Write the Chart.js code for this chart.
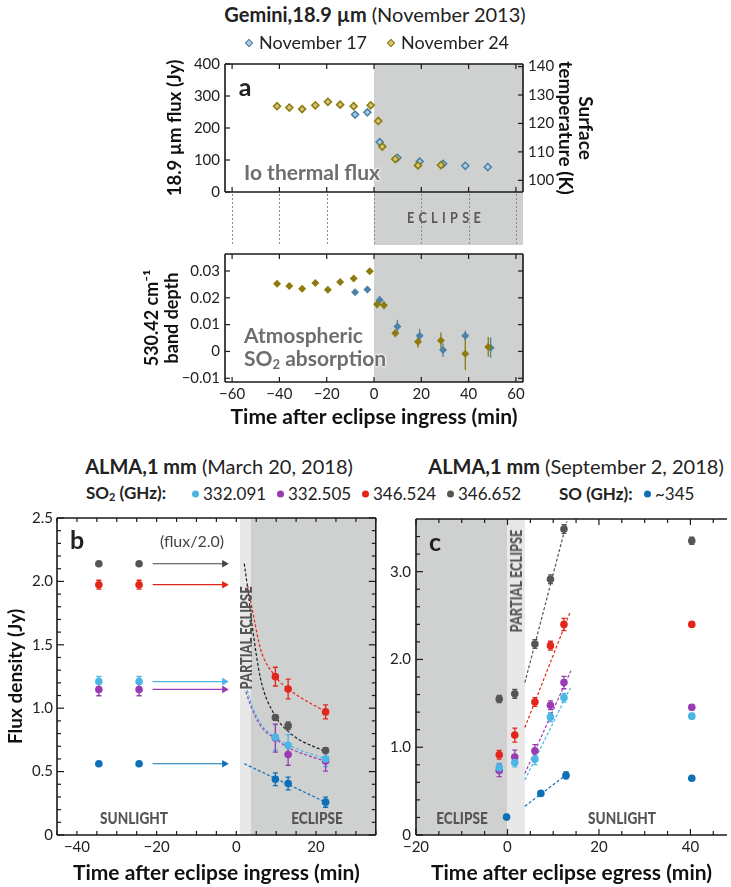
<!DOCTYPE html>
<html>
<head>
<meta charset="utf-8">
<script src="https://cdn.jsdelivr.net/npm/chart.js@4.4.1/dist/chart.umd.min.js"></script>
<style>
  body { margin: 0; background: #fff; width: 731px; height: 887px; position: relative; overflow: hidden;
         font-family: Lato, "DejaVu Sans", sans-serif; color: #222; }
  canvas { position: absolute; }
  .t { position: absolute; white-space: nowrap; line-height: 1; }
  .cond { font-weight: 900; color: #555; font-family: Lato, sans-serif; }
</style>
</head>
<body>
<canvas id="cA1" width="450" height="195" style="left:150px;top:50px"></canvas>
<canvas id="cA2" width="470" height="190" style="left:130px;top:240px"></canvas>
<canvas id="cB" width="381" height="382" style="left:0px;top:505px"></canvas>
<canvas id="cC" width="350" height="382" style="left:381px;top:505px"></canvas>

<script>
// ---- panel a : Gemini 18.9 um ----
const nov24FluxTime = [-41.0, -35.8, -30.4, -24.8, -19.5, -14.3, -8.6, -1.4, 1.8, 3.5, 9.0, 18.6, 28.3];
const nov24Flux     = [268, 264, 259, 271, 282, 273, 268, 271, 222, 142, 103, 83, 84];
const nov17FluxTime = [-8.0, -2.8, 2.4, 9.9, 19.3, 29.2, 38.6, 48.1];
const nov17Flux     = [242, 249, 156, 107, 95, 88, 82, 78];

const nov24DepthTime = [-41.0, -35.8, -30.4, -24.8, -19.5, -14.3, -8.6, -1.8, 1.3, 4.2, 9.0, 18.6, 28.3, 38.6, 48.3];
const nov24Depth     = [0.0252, 0.0244, 0.0234, 0.0255, 0.0230, 0.0259, 0.0272, 0.0299, 0.0176, 0.0172, 0.0068, 0.0036, 0.0041, -0.0009, 0.0017];
const nov24DepthErr  = [0, 0, 0, 0, 0, 0, 0, 0, 0.0015, 0.0015, 0.0015, 0.0022, 0.003, 0.006, 0.0037];
const nov17DepthTime = [-8.0, -2.8, 2.4, 9.9, 19.3, 29.2, 38.6, 49.3];
const nov17Depth     = [0.0221, 0.0231, 0.0192, 0.0093, 0.0059, 0.0005, 0.0059, 0.0014];
const nov17DepthErr  = [0, 0, 0.0015, 0.0025, 0.0025, 0.0025, 0.0018, 0.0038];

const timeTicksA  = [-60, -40, -20, 0, 20, 40, 60];
const fluxTicks   = [0, 100, 200, 300, 400];
const tempTicks   = [100, 110, 120, 130, 140];
const depthTicks  = [-0.01, 0, 0.01, 0.02, 0.03];

// ---- panel b : ALMA ingress (March 20, 2018) ----
const ingTime      = [-34.5, -24.4, 9.8, 13.0, 22.4];
const b332091      = [1.21, 1.21, 0.77, 0.707, 0.60];
const b332091Err   = [0.04, 0.04, 0.10, 0.085, 0.06];
const b332505      = [1.148, 1.148, 0.764, 0.635, 0.583];
const b332505Err   = [0.05, 0.05, 0.11, 0.085, 0.08];
const b346524      = [1.974, 1.974, 1.249, 1.152, 0.971];
const b346524Err   = [0.035, 0.035, 0.074, 0.078, 0.055];
const b346652      = [2.139, 2.139, 0.927, 0.862, 0.666];
const b346652Err   = [0, 0, 0.02, 0.03, 0.02];
const bSO          = [0.562, 0.562, 0.44, 0.406, 0.259];
const bSOErr       = [0, 0, 0.05, 0.05, 0.04];

const fitB346652T = [2.0, 2.8, 4.0, 6.1, 9.4, 13.5, 22.4];
const fitB346652  = [2.14, 1.956, 1.645, 1.23, 0.958, 0.803, 0.655];
const fitB346524T = [2.8, 4.5, 6.1, 9.8, 13.0, 22.4];
const fitB346524  = [1.97, 1.70, 1.463, 1.25, 1.152, 0.971];
const fitB332091T = [2.4, 3.6, 6.1, 9.8, 13.0, 22.4];
const fitB332091  = [1.18, 1.05, 0.88, 0.77, 0.71, 0.60];
const fitB332505T = [2.4, 3.6, 6.1, 9.8, 13.0, 22.4];
const fitB332505  = [1.13, 1.02, 0.86, 0.76, 0.69, 0.58];
const fitBSOT     = [2.0, 22.4];
const fitBSO      = [0.562, 0.259];

const arrowT      = [-21, -3];
const arrowLevels = [2.139, 1.974, 1.21, 1.148, 0.562];

const timeTicksB   = [-40, -20, 0, 20];
const timeMinorB   = [-45, -40, -35, -30, -25, -20, -15, -10, -5, 0, 5, 10, 15, 20, 25, 30, 35];
const fluxTicksB   = [0, 0.5, 1.0, 1.5, 2.0, 2.5];
const fluxMinorB   = [0.1, 0.2, 0.3, 0.4, 0.6, 0.7, 0.8, 0.9, 1.1, 1.2, 1.3, 1.4, 1.6, 1.7, 1.8, 1.9, 2.1, 2.2, 2.3, 2.4];

// ---- panel c : ALMA egress (September 2, 2018) ----
const egrTime      = [-1.8, 1.6, 6.0, 9.4, 12.35, 40.3];
const c346652      = [1.549, 1.608, 2.175, 2.913, 3.486, 3.352];
const c346652Err   = [0.04, 0.05, 0.05, 0.05, 0.05, 0.04];
const c346524      = [0.914, 1.138, 1.515, 2.157, 2.399, 2.399];
const c346524Err   = [0.05, 0.08, 0.05, 0.05, 0.07, 0.02];
const c332505      = [0.735, 0.888, 0.959, 1.478, 1.736, 1.455];
const c332505Err   = [0.07, 0.08, 0.07, 0.05, 0.07, 0.03];
const c332091      = [0.765, 0.825, 0.862, 1.343, 1.563, 1.354];
const c332091Err   = [0.05, 0.05, 0.06, 0.05, 0.05, 0.03];
const cSOTime      = [-0.2, 7.3, 12.8, 40.3];
const cSO          = [0.205, 0.474, 0.679, 0.646];
const cSOErr       = [0.03, 0.02, 0.04, 0.01];

const fitCT        = [3.8, 13.0];
const fitC346652   = [1.736, 3.572];
const fitC346524T  = [3.8, 13.7];
const fitC346524   = [1.224, 2.54];
const fitC332505T  = [3.8, 13.9];
const fitC332505   = [0.70, 1.877];
const fitC332091T  = [3.8, 13.9];
const fitC332091   = [0.627, 1.69];
const fitCSOT      = [3.8, 12.8];
const fitCSO       = [0.328, 0.683];

const timeTicksC   = [-20, 0, 20, 40];
const timeMinorC   = [-15, -10, -5, 5, 10, 15, 25, 30, 35, 45];
const fluxTicksC   = [0, 1.0, 2.0, 3.0];
const fluxMinorC   = [0.2, 0.4, 0.6, 0.8, 1.2, 1.4, 1.6, 1.8, 2.2, 2.4, 2.6, 2.8, 3.2, 3.4];

// colours
const GRAY = '#555555', RED = '#e3261c', CYAN = '#4bb6e6', PURPLE = '#9b3bb4', BLUE = '#0d70b7';
const OLIVE = '#8e7b0e', OLIVE_L = '#d3c67a', STEEL = '#4c82a8', STEEL_L = '#b3cde0';
const SHADE = '#cfd0d0', SHADE_L = '#e8e8e8';

const pts = (xs, ys) => xs.map((x, i) => ({x, y: ys[i]}));
const minus = s => String(s).replace('-', '\u2212');
const fixTicks = vals => s => { s.ticks = vals.map(v => ({value: v})); };
const noGrid = {display: false, drawTicks: false};

// per-chart extras: shading, ticks drawn inward, frame
const panelCfg = {
  cA1: {
    bands: [{from: 0, to: 63, color: SHADE}], bandToBottom: true, gapLines: timeTicksA,
    ticks: [{scale: 'x', side: 'top', values: timeTicksA, len: 5}, {scale: 'x', side: 'bottom', values: timeTicksA, len: 5},
            {scale: 'y', side: 'left', values: fluxTicks, len: 5}, {scale: 'y2', side: 'right', values: tempTicks, len: 5}],
    sides: ['top', 'right', 'bottom', 'left']
  },
  cA2: {
    bands: [{from: 0, to: 63, color: SHADE}],
    ticks: [{scale: 'x', side: 'top', values: timeTicksA, len: 5}, {scale: 'x', side: 'bottom', values: timeTicksA, len: 5},
            {scale: 'y', side: 'left', values: depthTicks, len: 5}, {scale: 'y', side: 'right', values: depthTicks, len: 5}],
    sides: ['top', 'right', 'bottom', 'left']
  },
  cB: {
    bands: [{from: 0.9, to: 3.6, color: SHADE_L}, {from: 3.6, to: 35, color: SHADE}],
    ticks: [{scale: 'x', side: 'top', values: timeMinorB, len: 4}, {scale: 'x', side: 'bottom', values: timeMinorB, len: 4},
            {scale: 'y', side: 'left', values: fluxMinorB, len: 4}, {scale: 'y', side: 'left', values: fluxTicksB, len: 7},
            {scale: 'y', side: 'right', values: fluxMinorB, len: 4}, {scale: 'y', side: 'right', values: fluxTicksB, len: 7}],
    sides: ['top', 'right', 'bottom', 'left']
  },
  cC: {
    bands: [{from: -20, to: 0, color: SHADE}, {from: 0, to: 3.8, color: SHADE_L}],
    ticks: [{scale: 'x', side: 'top', values: timeMinorC, len: 4}, {scale: 'x', side: 'top', values: timeTicksC, len: 6},
            {scale: 'x', side: 'bottom', values: timeMinorC, len: 4}, {scale: 'x', side: 'bottom', values: timeTicksC, len: 6},
            {scale: 'y', side: 'left', values: fluxMinorC, len: 4}, {scale: 'y', side: 'left', values: fluxTicksC, len: 7}],
    sides: ['top', 'bottom', 'left']
  }
};

const panelPlugin = {
  id: 'panel',
  beforeDatasetsDraw(chart) {
    const o = panelCfg[chart.canvas.id];
    const {ctx, chartArea: a} = chart;
    const xs = chart.scales.x;
    ctx.save();
    const bottom = o.bandToBottom ? chart.height : a.bottom;
    o.bands.forEach(b => {
      const x0 = Math.max(a.left, xs.getPixelForValue(b.from));
      const x1 = Math.min(a.right, xs.getPixelForValue(b.to));
      ctx.fillStyle = b.color;
      ctx.fillRect(x0, a.top, x1 - x0, bottom - a.top);
    });
    if (o.gapLines) {
      ctx.strokeStyle = '#8c8c8c';
      ctx.lineWidth = 1;
      ctx.setLineDash([2, 2]);
      o.gapLines.forEach(v => {
        const px = Math.round(xs.getPixelForValue(v)) + 0.5;
        ctx.beginPath(); ctx.moveTo(px, a.bottom + 2); ctx.lineTo(px, chart.height); ctx.stroke();
      });
      ctx.setLineDash([]);
    }
    // error bars
    chart.data.datasets.forEach(ds => {
      if (!ds.errors) return;
      const ys = chart.scales[ds.yAxisID || 'y'];
      ctx.strokeStyle = ds.borderColor;
      ctx.lineWidth = 1.3;
      ds.data.forEach((p, j) => {
        const e = ds.errors[j];
        if (!e) return;
        const px = xs.getPixelForValue(p.x);
        const y0 = ys.getPixelForValue(p.y - e), y1 = ys.getPixelForValue(p.y + e);
        ctx.beginPath();
        ctx.moveTo(px, y0); ctx.lineTo(px, y1);
        if (ds.caps) {
          ctx.moveTo(px - 2.5, y0); ctx.lineTo(px + 2.5, y0);
          ctx.moveTo(px - 2.5, y1); ctx.lineTo(px + 2.5, y1);
        }
        ctx.stroke();
      });
    });
    ctx.restore();
  },
  afterDatasetsDraw(chart) {
    const o = panelCfg[chart.canvas.id];
    const {ctx, chartArea: a} = chart;
    ctx.save();
    ctx.strokeStyle = '#1a1a1a';
    ctx.lineWidth = 1.2;
    o.ticks.forEach(t => {
      const s = chart.scales[t.scale];
      t.values.forEach(v => {
        const p = s.getPixelForValue(v);
        ctx.beginPath();
        if (t.side === 'bottom') { ctx.moveTo(p, a.bottom); ctx.lineTo(p, a.bottom - t.len); }
        else if (t.side === 'top') { ctx.moveTo(p, a.top); ctx.lineTo(p, a.top + t.len); }
        else if (t.side === 'left') { ctx.moveTo(a.left, p); ctx.lineTo(a.left + t.len, p); }
        else { ctx.moveTo(a.right, p); ctx.lineTo(a.right - t.len, p); }
        ctx.stroke();
      });
    });
    ctx.lineWidth = 1.6;
    ctx.beginPath();
    if (o.sides.includes('top')) { ctx.moveTo(a.left, a.top); ctx.lineTo(a.right, a.top); }
    if (o.sides.includes('bottom')) { ctx.moveTo(a.left, a.bottom); ctx.lineTo(a.right, a.bottom); }
    if (o.sides.includes('left')) { ctx.moveTo(a.left, a.top); ctx.lineTo(a.left, a.bottom); }
    if (o.sides.includes('right')) { ctx.moveTo(a.right, a.top); ctx.lineTo(a.right, a.bottom); }
    ctx.stroke();
    ctx.restore();
  }
};

Chart.register(panelPlugin);
Chart.defaults.font.family = 'Lato, "DejaVu Sans", sans-serif';
Chart.defaults.font.size = 15;
Chart.defaults.color = '#222';

const base = {
  responsive: false, animation: false, devicePixelRatio: 1,
  plugins: {legend: {display: false}, tooltip: {enabled: false}}
};
const titleFont = (size, lh) => ({size: size, weight: 'bold', lineHeight: lh || 1.2});

function pointSet(xs, ys, color, extra) {
  return Object.assign({data: pts(xs, ys), borderColor: color, backgroundColor: color,
    pointStyle: 'circle', pointRadius: 3.8, borderWidth: 0, showLine: false, order: 0}, extra);
}
function fitSet(xs, ys, color) {
  return {data: pts(xs, ys), borderColor: color, borderWidth: 1.2, borderDash: [3, 2],
    pointRadius: 0, showLine: true, cubicInterpolationMode: 'monotone', order: 1};
}
function arrowSet(level, color) {
  return {data: pts(arrowT, [level, level]), borderColor: color, backgroundColor: color, borderWidth: 1.2,
    showLine: true, pointRadius: [0, 3.2], pointStyle: 'triangle', rotation: 90, order: 1};
}

// panel a, thermal flux
new Chart(document.getElementById('cA1'), {
  type: 'scatter',
  data: {datasets: [
    {data: pts(nov24FluxTime, nov24Flux), yAxisID: 'y', pointStyle: 'rectRot', pointRadius: 3.5,
     borderWidth: 1.6, borderColor: OLIVE, backgroundColor: OLIVE_L, order: 0},
    {data: pts(nov17FluxTime, nov17Flux), yAxisID: 'y', pointStyle: 'rectRot', pointRadius: 3.5,
     borderWidth: 1.6, borderColor: STEEL, backgroundColor: STEEL_L, order: 1}
  ]},
  options: Object.assign({}, base, {
    layout: {padding: {left: 14, right: 5, top: 9, bottom: 53}},
    scales: {
      x: {type: 'linear', display: false, min: -63, max: 63},
      y: {position: 'left', min: 0, max: 400, grid: noGrid, border: {display: false},
          afterBuildTicks: fixTicks(fluxTicks), afterFit: s => { s.width = 61; },
          ticks: {padding: 5},
          title: {display: true, text: '18.9 µm flux (Jy)', font: titleFont(18.5), color: '#111', padding: 0}},
      y2: {position: 'right', min: 95.9, max: 140.9, grid: noGrid, border: {display: false},
           afterBuildTicks: fixTicks(tempTicks), afterFit: s => { s.width = 72; },
           ticks: {padding: 5},
           title: {display: true, text: ['Surface', 'temperature (K)'], font: titleFont(19, 1.05), color: '#111', padding: 0}}
    }
  })
});

// panel a, SO2 band depth
new Chart(document.getElementById('cA2'), {
  type: 'scatter',
  data: {datasets: [
    {data: pts(nov24DepthTime, nov24Depth), errors: nov24DepthErr, pointStyle: 'rectRot', pointRadius: 4,
     borderWidth: 0, borderColor: OLIVE, backgroundColor: OLIVE, order: 0},
    {data: pts(nov17DepthTime, nov17Depth), errors: nov17DepthErr, pointStyle: 'rectRot', pointRadius: 4,
     borderWidth: 0, borderColor: STEEL, backgroundColor: STEEL, order: 1}
  ]},
  options: Object.assign({}, base, {
    layout: {padding: {left: 12, right: 77, top: 4, bottom: 0}},
    scales: {
      x: {type: 'linear', min: -63, max: 63, grid: noGrid, border: {display: false},
          afterBuildTicks: fixTicks(timeTicksA), afterFit: s => { s.height = 48; },
          ticks: {padding: 3, maxRotation: 0, callback: v => minus(v)},
          title: {display: true, text: 'Time after eclipse ingress (min)', font: titleFont(21), color: '#111', padding: 0}},
      y: {min: -0.01139, max: 0.03634, grid: noGrid, border: {display: false},
          afterBuildTicks: fixTicks(depthTicks), afterFit: s => { s.width = 83; },
          ticks: {padding: 5, callback: v => v === 0 ? '0' : minus(v.toFixed(2))},
          title: {display: true, text: ['530.42 cm\u207B\u00B9', 'band depth'], font: titleFont(18, 1.1), color: '#111', padding: 0}}
    }
  })
});

// panel b
new Chart(document.getElementById('cB'), {
  type: 'scatter',
  data: {datasets: [
    pointSet(ingTime, b346652, GRAY, {errors: b346652Err, caps: true}),
    pointSet(ingTime, b346524, RED, {errors: b346524Err, caps: true}),
    pointSet(ingTime, b332091, CYAN, {errors: b332091Err, caps: true}),
    pointSet(ingTime, b332505, PURPLE, {errors: b332505Err, caps: true}),
    pointSet(ingTime, bSO, BLUE, {errors: bSOErr, caps: true}),
    fitSet(fitB346652T, fitB346652, '#1c1c1c'),
    fitSet(fitB346524T, fitB346524, RED),
    fitSet(fitB332091T, fitB332091, CYAN),
    fitSet(fitB332505T, fitB332505, PURPLE),
    fitSet(fitBSOT, fitBSO, BLUE),
    arrowSet(arrowLevels[0], '#444'),
    arrowSet(arrowLevels[1], RED),
    arrowSet(arrowLevels[2], CYAN),
    arrowSet(arrowLevels[3], PURPLE),
    arrowSet(arrowLevels[4], BLUE)
  ]},
  options: Object.assign({}, base, {
    layout: {padding: {left: 4, right: 1, top: 7, bottom: 0}},
    scales: {
      x: {type: 'linear', min: -45, max: 35, grid: noGrid, border: {display: false},
          afterBuildTicks: fixTicks(timeTicksB), afterFit: s => { s.height = 52; },
          ticks: {padding: 3, maxRotation: 0, callback: v => minus(v)},
          title: {display: true, text: 'Time after eclipse ingress (min)', font: titleFont(21), color: '#111', padding: {top: 0, bottom: 1}}},
      y: {min: 0, max: 2.5, grid: noGrid, border: {display: false},
          afterBuildTicks: fixTicks(fluxTicksB), afterFit: s => { s.width = 53; },
          ticks: {padding: 4, callback: v => v === 0 ? '0' : v.toFixed(1)},
          title: {display: true, text: 'Flux density (Jy)', font: titleFont(19), color: '#111', padding: 0}}
    }
  })
});

// panel c
new Chart(document.getElementById('cC'), {
  type: 'scatter',
  data: {datasets: [
    pointSet(egrTime, c346652, GRAY, {errors: c346652Err, caps: true}),
    pointSet(egrTime, c346524, RED, {errors: c346524Err, caps: true}),
    pointSet(egrTime, c332091, CYAN, {errors: c332091Err, caps: true}),
    pointSet(egrTime, c332505, PURPLE, {errors: c332505Err, caps: true}),
    pointSet(cSOTime, cSO, BLUE, {errors: cSOErr, caps: true}),
    fitSet(fitCT, fitC346652, GRAY),
    fitSet(fitC346524T, fitC346524, RED),
    fitSet(fitC332505T, fitC332505, PURPLE),
    fitSet(fitC332091T, fitC332091, CYAN),
    fitSet(fitCSOT, fitCSO, BLUE)
  ]},
  options: Object.assign({}, base, {
    layout: {padding: {left: 0, right: 1, top: 7, bottom: 0}},
    scales: {
      x: {type: 'linear', min: -20, max: 48, grid: noGrid, border: {display: false},
          afterBuildTicks: fixTicks(timeTicksC), afterFit: s => { s.height = 52; },
          ticks: {padding: 3, maxRotation: 0, callback: v => minus(v)},
          title: {display: true, text: 'Time after eclipse egress (min)', font: titleFont(21), color: '#111', padding: {top: 0, bottom: 1}}},
      y: {min: 0, max: 3.6, grid: noGrid, border: {display: false},
          afterBuildTicks: fixTicks(fluxTicksC), afterFit: s => { s.width = 35; },
          ticks: {padding: 5, callback: v => v === 0 ? '0' : v.toFixed(1)}}
    }
  })
});

// ---- text overlays ----
function txt(html, x, y, css, anchor) {
  const d = document.createElement('div');
  d.className = 't';
  d.innerHTML = html;
  const tr = anchor === 'left' ? 'translate(0,-50%)' : 'translate(-50%,-50%)';
  d.style.cssText = `left:${x}px;top:${y}px;transform:${tr} ${css.rot || ''};${css.s || ''}`;
  document.body.appendChild(d);
  return d;
}
const diamond = (c, fill) => `<span style="display:inline-block;width:4px;height:4px;background:${fill};border:1.5px solid ${c};transform:rotate(45deg);margin-right:7px;vertical-align:3px"></span>`;
const dot = c => `<span style="display:inline-block;width:7px;height:7px;border-radius:50%;background:${c};margin-right:4px;vertical-align:2px"></span>`;
const halo = 'text-shadow:0 0 3px #fff,0 0 3px #fff,0 0 2px #fff;';

txt('<b>Gemini,18.9 µm</b> (November 2013)', 375, 14, {s: 'font-size:20px;'});
txt(diamond(STEEL, STEEL_L) + 'November 17', 246, 42, {s: 'font-size:18px;'}, 'left');
txt(diamond(OLIVE, OLIVE_L) + 'November 24', 388, 42, {s: 'font-size:18px;'}, 'left');
txt('<b>a</b>', 245, 86, {s: 'font-size:25px;'});
txt('Io thermal flux', 244, 171, {s: 'font-size:21px;font-weight:bold;color:#6e6e6e;' + halo}, 'left');
txt('Atmospheric', 244, 334, {s: 'font-size:21px;font-weight:bold;color:#6e6e6e;' + halo}, 'left');
txt('SO<sub style="font-size:13px;vertical-align:-3px">2</sub> absorption', 244, 359, {s: 'font-size:21px;font-weight:bold;color:#6e6e6e;' + halo}, 'left');
txt('ECLIPSE', 446, 217, {rot: 'scaleX(0.85)', s: 'font-size:15px;font-weight:bold;color:#5a5a5a;letter-spacing:5px;'});

txt('<b>ALMA,1 mm</b> (March 20, 2018)', 219, 466, {s: 'font-size:20px;'});
txt('<b>ALMA,1 mm</b> (September 2, 2018)', 576, 466, {s: 'font-size:20px;'});
const lg = 'font-size:17px;';
txt('<b>SO<sub style="font-size:11px;vertical-align:-2px">2</sub> (GHz):</b>', 86, 493, {s: lg}, 'left');
txt(dot(CYAN) + '332.091', 192, 493, {s: lg}, 'left');
txt(dot(PURPLE) + '332.505', 277, 493, {s: lg}, 'left');
txt(dot(RED) + '346.524', 362, 493, {s: lg}, 'left');
txt(dot(GRAY) + '346.652', 447, 493, {s: lg}, 'left');
txt('<b>SO (GHz):</b>', 559, 493, {s: lg}, 'left');
txt(dot(BLUE) + '~345', 644, 493, {s: lg}, 'left');

txt('<b>b</b>', 77, 539, {s: 'font-size:25px;'});
txt('(flux/2.0)', 192, 541, {s: 'font-size:16px;color:#444;'});
txt('PARTIAL ECLIPSE', 246, 638, {rot: 'rotate(-90deg) scaleX(0.8)', s: 'font-size:16px;' }).className += ' cond';
txt('SUNLIGHT', 134, 817, {rot: 'scaleX(0.8)', s: 'font-size:17px;'}).className += ' cond';
txt('ECLIPSE', 317, 817, {rot: 'scaleX(0.8)', s: 'font-size:17px;'}).className += ' cond';

txt('<b>c</b>', 435, 541, {s: 'font-size:25px;'});
txt('PARTIAL ECLIPSE', 516, 581, {rot: 'rotate(-90deg) scaleX(0.8)', s: 'font-size:16px;'}).className += ' cond';
txt('ECLIPSE', 462, 817, {rot: 'scaleX(0.8)', s: 'font-size:17px;'}).className += ' cond';
txt('SUNLIGHT', 622, 817, {rot: 'scaleX(0.8)', s: 'font-size:17px;'}).className += ' cond';
</script>
</body>
</html>
